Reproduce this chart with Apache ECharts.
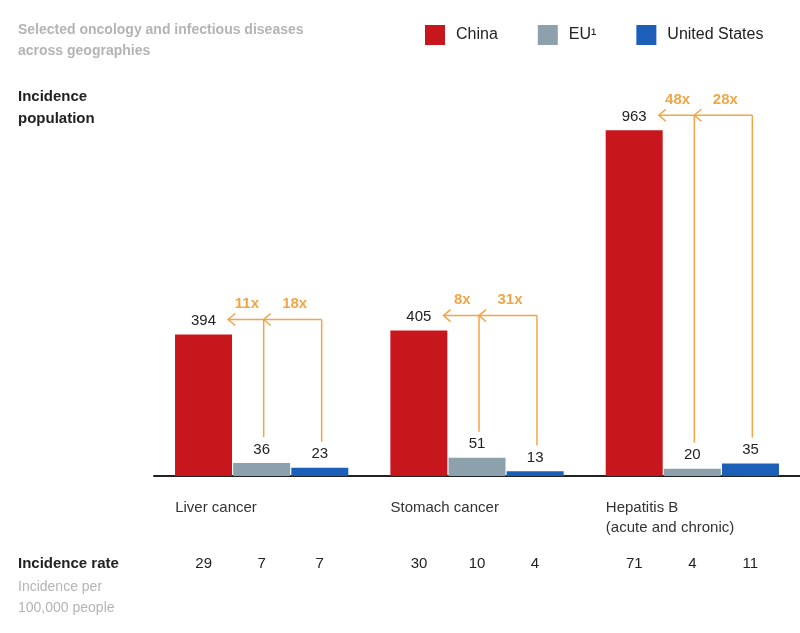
<!DOCTYPE html>
<html>
<head>
<meta charset="utf-8">
<script src="https://cdn.jsdelivr.net/npm/echarts@6/dist/echarts.min.js"></script>
<style>html,body{margin:0;padding:0;background:#fff}#chart{width:800px;height:633px}</style>
</head>
<body>
<div id="chart"></div>
<script>
// data
var categories = ['Liver cancer', 'Stomach cancer', 'Hepatitis B\n(acute and chronic)'];
var china = [394, 405, 963];
var eu = [36, 51, 20];
var us = [23, 13, 35];
var ratioEU = ['11x', '8x', '48x'];
var ratioUS = ['18x', '31x', '28x'];
var rateChina = [29, 30, 71];
var rateEU = [7, 10, 4];
var rateUS = [7, 4, 11];

var colors = ['#c8161d', '#8da1ad', '#1b5fb8'];
var orange = '#f2a545';
var font = 'Arial, "Liberation Sans", sans-serif';

var chart = echarts.init(document.getElementById('chart'));

function barLabel() {
    return {show: true, position: 'top', distance: 6, color: '#222', fontSize: 15, fontFamily: font};
}

function renderArrows(params, api) {
    var idx = api.value(0);
    var base = api.coord([idx, 0]);
    var cx = base[0], y0 = base[1];
    var bw = 57, step = 58;
    var xC = cx - step, xE = cx, xU = cx + step;
    var yC = api.coord([idx, api.value(1)])[1];
    var yE = api.coord([idx, api.value(2)])[1];
    var yU = api.coord([idx, api.value(3)])[1];
    var yH = yC - 15;
    var tipX = xC + bw / 2 - 4;
    var ls = {stroke: orange, lineWidth: 1.5, fill: null};
    function chevron(x) {
        return {type: 'polyline', shape: {points: [[x + 7, yH - 6], [x, yH], [x + 7, yH + 6]]}, style: ls};
    }
    var kids = [
        {type: 'line', shape: {x1: tipX, y1: yH, x2: xU + 2, y2: yH}, style: ls},
        {type: 'line', shape: {x1: xE + 2, y1: yH, x2: xE + 2, y2: yE - 26}, style: ls},
        {type: 'line', shape: {x1: xU + 2, y1: yH, x2: xU + 2, y2: yU - 26}, style: ls},
        chevron(tipX), chevron(xE + 2),
        {type: 'text', x: (tipX + xE) / 2 + 2, y: yH - 23, style: {text: ratioEU[idx], fill: orange, font: 'bold 15px ' + font, align: 'center'}},
        {type: 'text', x: (xE + xU) / 2 + 4, y: yH - 23, style: {text: ratioUS[idx], fill: orange, font: 'bold 15px ' + font, align: 'center'}},
        {type: 'text', x: xC - bw / 2, y: y0 + 22, style: {text: categories[idx], fill: '#333', font: '15px ' + font, lineHeight: 20}},
        {type: 'text', x: xC, y: y0 + 80, style: {text: String(rateChina[idx]), fill: '#222', font: '15px ' + font, align: 'center'}},
        {type: 'text', x: xE, y: y0 + 80, style: {text: String(rateEU[idx]), fill: '#222', font: '15px ' + font, align: 'center'}},
        {type: 'text', x: xU, y: y0 + 80, style: {text: String(rateUS[idx]), fill: '#222', font: '15px ' + font, align: 'center'}}
    ];
    return {type: 'group', children: kids};
}

var option = {
    animation: false,
    legend: {
        top: 20, left: 420, itemWidth: 20, itemHeight: 20, itemGap: 40,
        icon: 'rect',
        textStyle: {fontSize: 16, color: '#222', fontFamily: font, padding: [0, 0, 0, 6]},
        data: ['China', 'EU¹', 'United States']
    },
    grid: {left: 154, right: 0, top: 117, bottom: 157},
    xAxis: {
        type: 'category', data: categories,
        axisLine: {lineStyle: {color: '#222', width: 2}},
        axisTick: {show: false}, axisLabel: {show: false}
    },
    yAxis: {type: 'value', min: 0, max: 1000, show: false, splitLine: {show: false}},
    graphic: [
        {type: 'text', left: 18, top: 20, style: {text: 'Selected oncology and infectious diseases\nacross geographies', fill: '#b4b4b4', font: 'bold 14px ' + font, lineHeight: 21}},
        {type: 'text', left: 18, top: 86, style: {text: 'Incidence\npopulation', fill: '#222', font: 'bold 15px ' + font, lineHeight: 22}},
        {type: 'text', left: 18, top: 556, style: {text: 'Incidence rate', fill: '#222', font: 'bold 15px ' + font}},
        {type: 'text', left: 18, top: 577, style: {text: 'Incidence per\n100,000 people', fill: '#b4b4b4', font: '14px ' + font, lineHeight: 21}}
    ],
    series: [
        {name: 'China', type: 'bar', data: china, barWidth: 57, barGap: '2%', itemStyle: {color: colors[0]}, label: barLabel()},
        {name: 'EU¹', type: 'bar', data: eu, barWidth: 57, barGap: '2%', itemStyle: {color: colors[1]}, label: barLabel()},
        {name: 'United States', type: 'bar', data: us, barWidth: 57, barGap: '2%', itemStyle: {color: colors[2]}, label: barLabel()},
        {
            type: 'custom', renderItem: renderArrows, clip: false, silent: true,
            data: categories.map(function (c, i) { return [i, china[i], eu[i], us[i]]; }),
            encode: {x: 0, y: 1}, z: 5
        }
    ]
};

chart.setOption(option);
</script>
</body>
</html>
